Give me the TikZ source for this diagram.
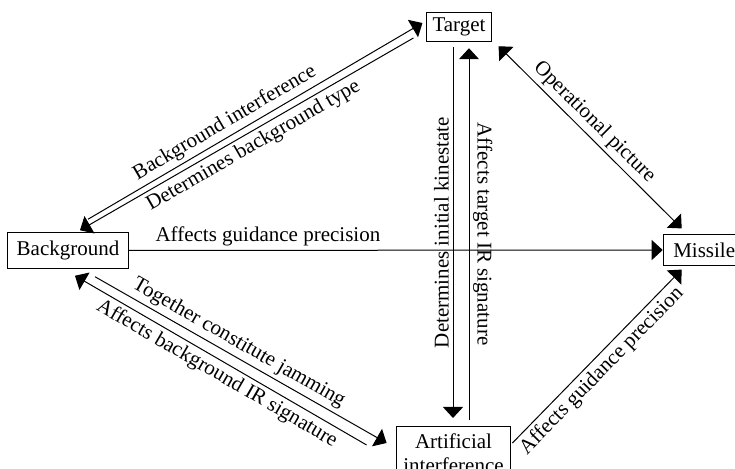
\documentclass[tikz,border=0pt]{standalone}
\usepackage{fontspec}
\setmainfont{Liberation Serif}
\usetikzlibrary{arrows.meta}
\begin{document}
\begin{tikzpicture}[x=0.5pt, y=-0.5pt, font=\fontsize{10.5}{12.3}\selectfont, line width=0.5pt,
  box/.style={draw, inner xsep=4.7pt, inner ysep=4.1pt},
  lbl/.style={inner sep=1.8pt},
  arrowto/.style={-{Triangle[length=5.5pt,width=10pt]}},
  arrowboth/.style={{Triangle[length=5.5pt,width=10pt]}-{Triangle[length=5.5pt,width=10pt]}}]
\useasboundingbox (0,0) rectangle (735,469);
\node[box] (background) at (68,250.5) {Background};
\node[box, inner sep=2.8pt] (target) at (459,27) {Target};
\node[box, minimum width=41pt, anchor=west] (missile) at (662.7,250) {Missile};
\node[box, inner sep=3.4pt, align=center, anchor=north] (artificial) at (453.5,426) {Artificial\\interference};
\draw[arrowto] ([shift={(20,-13)}]background.north) -- node[lbl, sloped, above, pos=0.43] {Background interference} ([shift={(-4,-4)}]target.west);
\draw[arrowto] ([shift={(-13,11)}]target.west) -- node[lbl, sloped, below, pos=0.5] {Determines background type} ([shift={(12,-2)}]background.north);
\draw[arrowto] (background) -- node[lbl, above, pos=0.26] {Affects guidance precision} (missile);
\draw[arrowto] ([shift={(-6,5)}]target.south) -- node[lbl, above, rotate=90, midway] {Determines initial kinestate} ([shift={(-0.5,-8)}]artificial.north);
\draw[arrowto] ([shift={(15.5,-6)}]artificial.north) -- node[lbl, above, rotate=-90, midway] {Affects target IR signature} ([shift={(10,6)}]target.south);
\draw[arrowboth] ([shift={(7,4)}]target.south east) -- node[lbl, sloped, above, pos=0.47] {Operational picture} ([shift={(19,-5.5)}]missile.north west);
\draw[arrowto] ([shift={(27,8)}]background.south) -- node[lbl, sloped, above, pos=0.47] {Together constitute jamming} ([shift={(-9.5,17)}]artificial.north west);
\draw[arrowto] ([shift={(-29.5,19)}]artificial.north west) -- node[lbl, sloped, below, pos=0.49] {Affects background IR signature} ([shift={(7,7)}]background.south);
\draw[arrowto] ([shift={(1.5,17)}]artificial.north east) -- node[lbl, sloped, below, pos=0.47] {Affects guidance precision} ([shift={(19,3.5)}]missile.south west);
\end{tikzpicture}
\end{document}
